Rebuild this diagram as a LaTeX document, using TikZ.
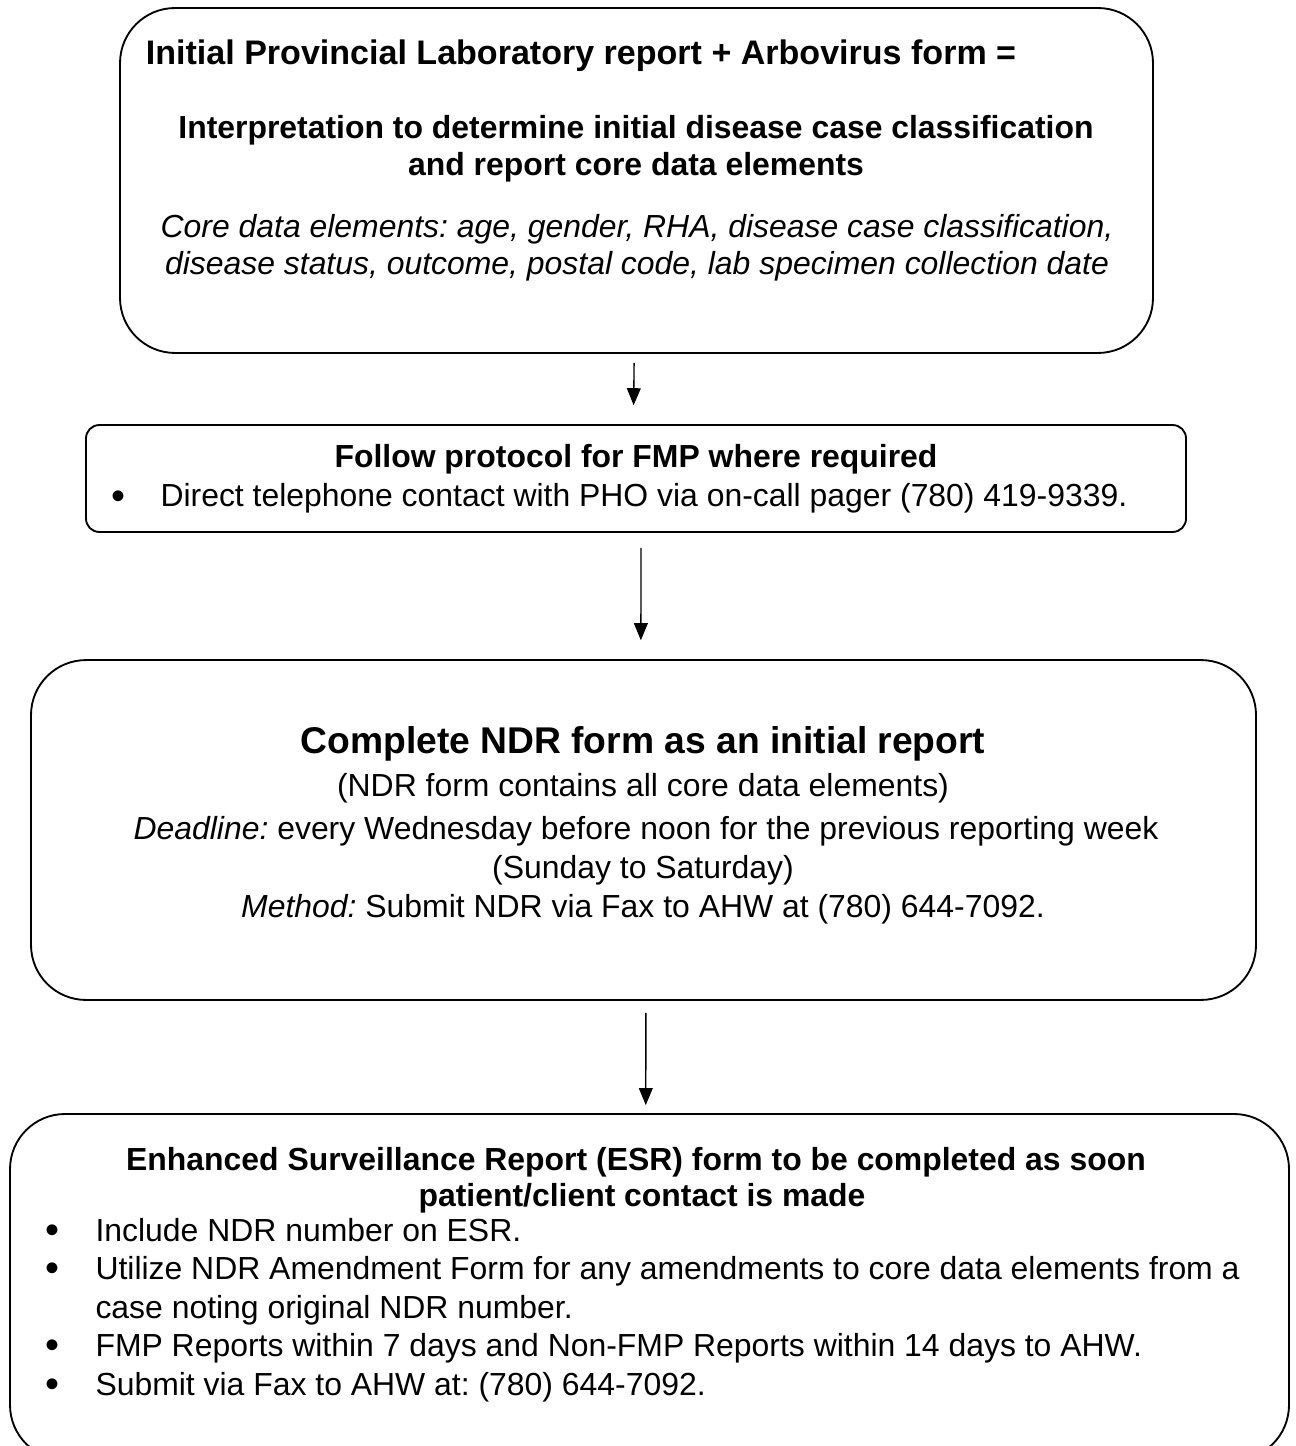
\documentclass[tikz,border=0pt]{standalone}
\usepackage{fontspec}
\setmainfont{Liberation Sans}
\usetikzlibrary{arrows.meta}
\frenchspacing

\begin{document}
\begin{tikzpicture}[x=0.376pt, y=-0.376pt,
    box/.style={draw, line width=0.7pt, rounded corners=20.7pt, inner sep=0pt},
    txt/.style={anchor=base, inner sep=0pt, font=\fontsize{12}{14}\selectfont},
    bold/.style={txt, font=\fontsize{12}{14}\selectfont\bfseries},
    item/.style={txt, anchor=base west},
    dot/.style={txt, yshift=-0.8pt, font=\fontsize{15}{15}\selectfont},
    flow/.style={-{Triangle[length=6.4pt,width=5.2pt]}, line width=0.5pt}]
      \clip (0,0) rectangle (1296,1446);

      % boxes
      \node[box, minimum width=388.4pt, minimum height=129.7pt] (b1) at (636.5,180.5) {};
      \node[box, rounded corners=5pt, minimum width=413.6pt, minimum height=40.2pt] (b2) at (636,478.5) {};
      \node[box, minimum width=460.6pt, minimum height=127.8pt] (b3) at (643.5,830) {};
      \node[box, minimum width=480.9pt, minimum height=130.1pt] (b4) at (649.5,1287) {};

      % first box
      \node[bold, font=\fontsize{12.8}{14}\selectfont\bfseries] (lab) at (581,65) {Initial Provincial Laboratory report + Arbovirus form =};
      \node[bold] (interp) at (636,139) {Interpretation to determine initial disease case classification};
      \node[bold] (interp2) at (636,176) {and report core data elements};
      \node[txt, font=\fontsize{12}{14}\selectfont\itshape] (core) at (637,238) {Core data elements: age, gender, RHA, disease case classification,};
      \node[txt, font=\fontsize{12}{14}\selectfont\itshape] (core2) at (637,275) {disease status, outcome, postal code, lab specimen collection date};

      % FMP box
      \node[bold] (fmp) at (636,468) {Follow protocol for FMP where required};
      \node[dot] (fmpdot) at (118,507) {\textbullet};
      \node[item] (fmpitem) at (160,507) {Direct telephone contact with PHO via on-call pager (780) 419-9339.};

      % NDR box
      \node[txt, font=\fontsize{14}{16}\selectfont\bfseries] (ndr) at (643,753) {Complete NDR form as an initial report};
      \node[txt] (ndr1) at (643,796) {(NDR form contains all core data elements)};
      \node[txt] (ndr2) at (646,839) {\textit{Deadline:} every Wednesday before noon for the previous reporting week};
      \node[txt] (ndr3) at (643,878) {(Sunday to Saturday)};
      \node[txt] (ndr4) at (643,917) {\textit{Method:} Submit NDR via Fax to AHW at (780) 644-7092.};

      % ESR box
      \node[bold] (esr) at (636,1170) {Enhanced Surveillance Report (ESR) form to be completed as soon};
      \node[bold] (esr2) at (642,1206) {patient/client contact is made};
      \foreach \y/\n in {1241/1, 1279.5/2, 1356.5/3, 1395/4}
        \node[dot] (dot\n) at (52,\y) {\textbullet};
      \node[item] (it1) at (95,1241) {Include NDR number on ESR.};
      \node[item] (it2) at (95,1279.5) {Utilize NDR Amendment Form for any amendments to core data elements from a};
      \node[item] (it2b) at (95,1318) {case noting original NDR number.};
      \node[item] (it3) at (95,1356.5) {FMP Reports within 7 days and Non-FMP Reports within 14 days to AHW.};
      \node[item] (it4) at (95,1395) {Submit via Fax to AHW at: (780) 644-7092.};

      \draw[flow] ([xshift=-0.9pt,yshift=-3.4pt]b1.south) -- ([xshift=-0.9pt,yshift=7.1pt]b2.north);
      \draw[flow] ([xshift=1.9pt,yshift=-5.6pt]b2.south) -- ([xshift=-1pt,yshift=7.1pt]b3.north);
      \draw[flow] ([xshift=0.9pt,yshift=-4.5pt]b3.south) -- ([xshift=-1.4pt,yshift=3pt]b4.north);
    \end{tikzpicture}
\end{document}
